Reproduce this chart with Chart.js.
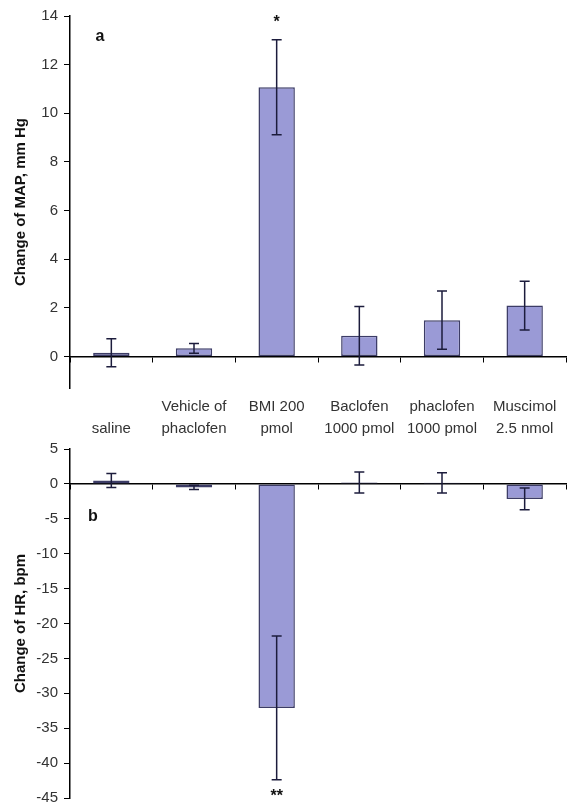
<!DOCTYPE html>
<html>
<head>
<meta charset="utf-8">
<script src="https://cdn.jsdelivr.net/npm/chart.js@4.4.1/dist/chart.umd.min.js"></script>
<style>
  html, body { margin: 0; padding: 0; background: #fff; overflow: hidden; }
  body { width: 568px; height: 805px; position: relative; }
  .panel { position: absolute; left: 0; width: 568px; }
  #mapPanel { top: 0; height: 445px; }
  #hrPanel { top: 434px; height: 379px; }
</style>
</head>
<body>
<div class="panel" id="mapPanel"><canvas id="mapChart"></canvas></div>
<div class="panel" id="hrPanel"><canvas id="hrChart"></canvas></div>
<script>
// treatment groups (two-line labels)
const groups = [
  ['', 'saline'],
  ['Vehicle of', 'phaclofen'],
  ['BMI 200', 'pmol'],
  ['Baclofen', '1000 pmol'],
  ['phaclofen', '1000 pmol'],
  ['Muscimol', '2.5 nmol'],
];
// panel a: change of MAP, mm Hg
const mapMean = [0.15, 0.33, 11.07, 0.85, 1.49, 2.09];
const mapErr = [0.58, 0.2, 1.95, 1.2, 1.2, 1.0];
const mapMarks = ['', '', '*', '', '', ''];
const mapTicks = [0, 2, 4, 6, 8, 10, 12, 14];
// panel b: change of HR, bpm
const hrMean = [0.5, -0.5, -32.1, 0.2, 0.15, -2.15];
const hrErr = [1.0, 0.3, 10.3, 1.5, 1.45, 1.55];
const hrMarks = ['', '', '**', '', '', ''];
const hrTicks = [5, 0, -5, -10, -15, -20, -25, -30, -35, -40, -45];

const family = 'Arial, "Liberation Sans", sans-serif';
const barFill = '#9a9ad6';
const barEdge = '#3c3c66';
const inkColor = '#1c1c3c';

//error bars, significance marks and panel letter
const errorBarPlugin = {
  id: 'errorBars',
  afterDatasetsDraw(chart, args, opts) {
    const ctx = chart.ctx;
    const meta = chart.getDatasetMeta(0);
    const yScale = chart.scales.y;
    const means = chart.data.datasets[0].data;
    ctx.save();
    ctx.strokeStyle = inkColor;
    ctx.lineWidth = 1.5;
    ctx.fillStyle = '#111';
    ctx.font = 'bold 16px ' + family;
    ctx.textAlign = 'center';
    ctx.textBaseline = 'middle';
    meta.data.forEach((bar, i) => {
      const top = yScale.getPixelForValue(means[i] + opts.err[i]);
      const bottom = yScale.getPixelForValue(means[i] - opts.err[i]);
      ctx.beginPath();
      ctx.moveTo(bar.x, top);
      ctx.lineTo(bar.x, bottom);
      ctx.moveTo(bar.x - 5, top);
      ctx.lineTo(bar.x + 5, top);
      ctx.moveTo(bar.x - 5, bottom);
      ctx.lineTo(bar.x + 5, bottom);
      ctx.stroke();
      const mark = opts.marks[i];
      if (mark) {
        const y = means[i] >= 0 ? top - 17 : bottom + 17;
        ctx.fillText(mark, bar.x, y);
      }
    });
    ctx.fillText(opts.letter, chart.chartArea.left + opts.letterX, chart.chartArea.top + opts.letterY);
    ctx.restore();
  },
};

function barDataset(values) {
  return {
    data: values,
    backgroundColor: barFill,
    borderColor: barEdge,
    borderWidth: 1.5,
    borderSkipped: false,
    categoryPercentage: 0.44,
    barPercentage: 1,
  };
}

function zeroAxis() {
  return {
    type: 'category',
    position: { y: 0 },
    offset: true,
    grid: { offset: true, drawOnChartArea: false, drawTicks: true, tickLength: 5, color: '#000', lineWidth: 1 },
    border: { color: '#000', width: 1.5 },
    ticks: { display: false },
  };
}

function valueAxis(min, max, tickList, title) {
  return {
    min: min,
    max: max,
    afterBuildTicks: (scale) => {
      scale.ticks = tickList.map((v) => ({ value: v }));
    },
    afterFit: (scale) => {
      scale.width = 70;
    },
    grid: { drawOnChartArea: false, drawTicks: true, tickLength: 6, color: '#000' },
    border: { color: '#000', width: 1.5 },
    ticks: { font: { family: family, size: 15 }, color: '#333', padding: 6 },
    title: {
      display: true,
      text: title,
      color: '#111',
      font: { family: family, size: 15, weight: 'bold' },
      padding: { top: 12, bottom: 0 },
    },
  };
}

new Chart(document.getElementById('mapChart'), {
  type: 'bar',
  data: { labels: groups, datasets: [barDataset(mapMean)] },
  plugins: [errorBarPlugin],
  options: {
    responsive: true,
    maintainAspectRatio: false,
    animation: false,
    layout: { padding: { top: 16, right: 2, left: 0, bottom: 0 } },
    plugins: {
      legend: { display: false },
      tooltip: { enabled: false },
      errorBars: { err: mapErr, marks: mapMarks, letter: 'a', letterX: 30, letterY: 21 },
    },
    scales: {
      x: {
        position: 'bottom',
        offset: true,
        grid: { display: false, drawTicks: false },
        border: { display: false },
        ticks: {
          font: { family: family, size: 15, lineHeight: '22px' },
          color: '#333',
          padding: 8,
          maxRotation: 0,
          autoSkip: false,
        },
        afterFit: (scale) => {
          scale.height = 57;
        },
      },
      xz: zeroAxis(),
      y: valueAxis(-1.3, 14, mapTicks, 'Change of MAP, mm Hg'),
    },
  },
});

new Chart(document.getElementById('hrChart'), {
  type: 'bar',
  data: { labels: groups, datasets: [barDataset(hrMean)] },
  plugins: [errorBarPlugin],
  options: {
    responsive: true,
    maintainAspectRatio: false,
    animation: false,
    layout: { padding: { top: 9, right: 2, left: 0, bottom: 12 } },
    plugins: {
      legend: { display: false },
      tooltip: { enabled: false },
      errorBars: { err: hrErr, marks: hrMarks, letter: 'b', letterX: 23, letterY: 68 },
    },
    scales: {
      x: zeroAxis(),
      y: valueAxis(-45, 5, hrTicks, 'Change of HR, bpm'),
    },
  },
});
</script>
</body>
</html>
